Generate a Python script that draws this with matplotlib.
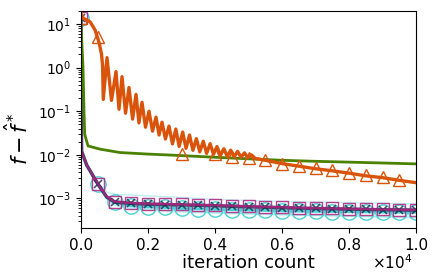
import numpy as np
import matplotlib
matplotlib.use("Agg")
from matplotlib import pyplot as plt
from matplotlib.ticker import FuncFormatter

# iteration grid shared by the lower (fast) methods
it_fast = [0, 5, 20, 170, 500, 770, 1000, 1500, 2000, 2500, 3000, 3500, 4000,
           4500, 5000, 5500, 6000, 6500, 7000, 7500, 8000, 8500, 9000, 9500, 10000]

magenta_vals = [13.7, 0.1, 0.012, 5.9e-3, 2.2e-3, 1.1e-3, 8.5e-4, 7.9e-4, 7.6e-4,
                7.45e-4, 7.3e-4, 7.15e-4, 7.0e-4, 6.8e-4, 6.6e-4, 6.45e-4, 6.3e-4,
                6.15e-4, 6.0e-4, 5.9e-4, 5.8e-4, 5.7e-4, 5.6e-4, 5.55e-4, 5.5e-4]
navy_vals = [13.7, 0.1, 0.012, 5.8e-3, 2.15e-3, 1.08e-3, 8.3e-4, 7.7e-4, 7.4e-4,
             7.25e-4, 7.1e-4, 6.95e-4, 6.8e-4, 6.6e-4, 6.45e-4, 6.3e-4, 6.15e-4,
             6.0e-4, 5.9e-4, 5.8e-4, 5.7e-4, 5.6e-4, 5.5e-4, 5.45e-4, 5.4e-4]
cyan_vals = [13.7, 0.1, 0.012, 5.9e-3, 2.2e-3, 1.05e-3, 8.1e-4, 6.8e-4, 6.4e-4,
             6.2e-4, 5.9e-4, 5.75e-4, 5.6e-4, 5.5e-4, 5.4e-4, 5.3e-4, 5.2e-4,
             5.1e-4, 5.05e-4, 5.0e-4, 4.95e-4, 4.9e-4, 4.85e-4, 4.8e-4, 4.8e-4]

# individual cyan runs (faint band)
it_runs = [0, 5, 20, 170, 500, 770, 1000, 1500, 2000, 3000, 4000, 6000, 8000, 10000]
cyan_runs = [
    [13.7, 0.1, 0.012, 6.0e-3, 2.4e-3, 1.4e-3, 1.25e-3, 1.2e-3, 1.15e-3, 1.05e-3, 9.5e-4, 8.5e-4, 8.0e-4, 7.5e-4],
    [13.7, 0.1, 0.012, 5.8e-3, 2.1e-3, 1.0e-3, 7.5e-4, 6.2e-4, 5.8e-4, 5.2e-4, 4.8e-4, 4.3e-4, 4.0e-4, 3.8e-4],
    [13.7, 0.1, 0.012, 5.9e-3, 2.2e-3, 1.05e-3, 8.4e-4, 7.2e-4, 6.8e-4, 6.4e-4, 6.1e-4, 5.7e-4, 5.5e-4, 5.3e-4],
    [13.7, 0.1, 0.012, 6.0e-3, 2.3e-3, 1.1e-3, 9.0e-4, 7.8e-4, 7.3e-4, 6.8e-4, 6.5e-4, 6.1e-4, 5.9e-4, 5.7e-4],
    [13.7, 0.1, 0.012, 5.7e-3, 2.0e-3, 9.5e-4, 7.0e-4, 5.8e-4, 5.4e-4, 4.9e-4, 4.6e-4, 4.2e-4, 3.9e-4, 3.6e-4],
]

# green method
it_green = [0, 60, 90, 110, 150, 210, 570, 1160, 2000, 2660, 3000, 4000, 5000,
            6000, 7000, 8000, 9000, 10000]
green_vals = [10.0, 1.0, 0.1, 0.03, 0.023, 0.016, 0.0135, 0.0113, 0.0104, 0.0099,
              0.0096, 0.0088, 0.0081, 0.0075, 0.0071, 0.0068, 0.0065, 0.0062]

# orange method: smooth start, oscillating phase (trough/peak), smooth tail
it_orange = [0, 70, 270, 420, 545, 615, 645, 665, 776, 910, 1045, 1135, 1224,
             1330, 1433, 1540, 1642, 1730, 1821, 1925, 2030, 2135, 2239, 2330,
             2418, 2520, 2627, 2730, 2830, 2930, 3035, 3135, 3240, 3340, 3445,
             3545, 3650, 3750, 3855, 3955, 4060, 4160, 4265, 4365, 4470, 4570,
             4675, 4775, 4880, 4980, 5085, 5200, 5500, 6000, 6500, 7000, 7500,
             8000, 8500, 9000, 9500, 10000]
orange_vals = [14.0, 13.5, 11.3, 7.3, 3.64, 1.97, 1.07, 0.187, 1.69, 0.177, 0.81,
               0.111, 0.62, 0.090, 0.35, 0.066, 0.243, 0.054, 0.160, 0.043, 0.100,
               0.035, 0.073, 0.0285, 0.056, 0.0231, 0.0456, 0.0178, 0.039, 0.0156,
               0.0333, 0.0141, 0.0285, 0.0127, 0.0235, 0.0117, 0.0205, 0.0108,
               0.0180, 0.0103, 0.0155, 0.0097, 0.0138, 0.0092, 0.0128, 0.0090,
               0.0120, 0.0088, 0.0111, 0.0086, 0.0100, 0.0083, 0.0075, 0.0063,
               0.0055, 0.0048, 0.0043, 0.0038, 0.0033, 0.0030, 0.0026, 0.0023]
# triangles that can be seen (the others sit inside the oscillating band)
orange_mk_it = [0, 500, 3000, 4000, 4500, 5000, 5500, 6000, 6500, 7000, 7500,
                8000, 8500, 9000, 9500]
orange_mk_vals = [14.0, 5.0, 0.0105, 0.0102, 0.0090, 0.0086, 0.0075, 0.0063,
                  0.0056, 0.0049, 0.0044, 0.0039, 0.0034, 0.0031, 0.0027]

c_orange = "#d9540a"
c_green = "#4a8200"
c_cyan = "#48d1d4"
c_magenta = "#b0207e"
c_navy = "#1c2a4e"

fig = plt.figure(figsize=(4.36, 2.8), dpi=100)
ax = fig.add_axes([81 / 436, 52 / 280, 335 / 436, 217.3 / 280])

mk_fast = [i for i, v in enumerate(it_fast) if v % 500 == 0]

for run in cyan_runs:
    ax.plot(it_runs, run, color=c_cyan, lw=1.0, alpha=0.35)
ax.plot(it_fast, cyan_vals, color=c_cyan, lw=2, marker="o", markevery=mk_fast,
        ms=11, mfc="none", mec=c_cyan, mew=1.0)
ax.plot(it_fast, navy_vals, color=c_navy, lw=2.5, marker="x", markevery=mk_fast,
        ms=6, mew=1.2, alpha=0.8)
ax.plot(it_fast, magenta_vals, color=c_magenta, lw=1.5, marker="s", markevery=mk_fast,
        ms=8, mfc="none", mec=c_magenta, mew=1.0, alpha=0.85)

ax.plot(it_green, green_vals, color=c_green, lw=2)

ax.plot(orange_mk_it, orange_mk_vals, ls="none", marker="^", ms=9, mfc="none",
        mec=c_orange, mew=1.0, zorder=2)
ax.plot(it_orange, orange_vals, color=c_orange, lw=2.4, zorder=2.1)

ax.set_yscale("log")
ax.set_xlim(0, 10000)
ax.set_ylim(2.1e-4, 20.2)
ax.set_xticks([0, 2000, 4000, 6000, 8000, 10000])
ax.xaxis.set_major_formatter(FuncFormatter(lambda v, p: "%.1f" % (v / 1e4)))
ax.tick_params(axis="x", labelsize=11)
ax.tick_params(axis="y", labelsize=10)
ax.text(0.99, -0.16, r"$\times10^{4}$", transform=ax.transAxes, ha="right",
        va="center", fontsize=11)
ax.set_xlabel("iteration count", fontsize=13)
ax.xaxis.set_label_coords(0.5, -0.16)
ax.xaxis.label.set_va("center")
ax.set_ylabel(r"$f - \hat{f}^*$", fontsize=15)
ax.yaxis.set_label_coords(-0.146, 0.41)

fig.savefig("out.png", dpi=100)
